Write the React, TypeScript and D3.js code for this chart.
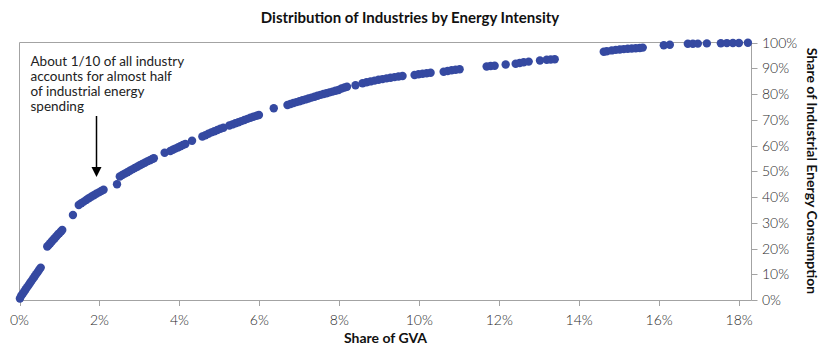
import React from "react";
import * as d3 from "d3";

const gvaShare: number[] = [
  0.01, 0.043, 0.08, 0.118, 0.155, 0.193, 0.23, 0.268, 0.305, 0.343, 0.381, 0.418, 0.456, 0.493, 0.531,
  0.694, 0.731, 0.769, 0.806, 0.844, 0.881, 0.919, 0.956, 0.994, 1.037, 1.069,
  1.337,
  1.482, 1.545, 1.607, 1.67, 1.733, 1.795, 1.858, 1.92, 1.983, 2.046, 2.103,
  2.439,
  2.509, 2.571, 2.634, 2.697, 2.759, 2.822, 2.884, 2.947, 3.009, 3.072, 3.135, 3.197, 3.26, 3.322, 3.36,
  3.63,
  3.773, 3.836, 3.898, 3.961, 4.024, 4.086, 4.149,
  4.316,
  4.574, 4.65, 4.725, 4.8, 4.875, 4.95, 5.025, 5.1, 5.25, 5.326, 5.401, 5.476, 5.551, 5.626, 5.701, 5.776, 5.851, 5.926, 5.989,
  6.36,
  6.703, 6.778, 6.853, 6.928, 7.003, 7.078, 7.153, 7.228, 7.303, 7.379, 7.454, 7.529, 7.604, 7.679, 7.754, 7.829, 7.904, 7.979, 8.055, 8.13, 8.192,
  8.405, 8.581, 8.681, 8.781, 8.881, 8.981, 9.081, 9.181, 9.281, 9.381, 9.481, 9.581,
  9.882, 9.982, 10.083, 10.183, 10.283,
  10.609, 10.709, 10.809, 10.909, 11.009,
  11.685, 11.785, 11.885,
  12.161,
  12.411, 12.511, 12.611, 12.737,
  13.019,
  13.187, 13.288, 13.388,
  14.614, 14.689, 14.814, 14.915, 15.015, 15.115, 15.215, 15.315, 15.415, 15.515, 15.59,
  16.116, 16.267, 16.717, 16.843, 16.968, 17.193, 17.544, 17.694, 17.845, 17.995, 18.22,
];

const energyShare: number[] = [
  0.6, 1.63, 2.45, 3.3, 4.16, 5.01, 5.83, 6.68, 7.53, 8.39, 9.2, 10.06, 10.91, 11.77, 12.58,
  20.78, 21.36, 22.06, 22.72, 23.38, 24.0, 24.66, 25.32, 25.94, 26.6, 27.18,
  33.0,
  36.89, 37.55, 38.21, 38.87, 39.5, 40.08, 40.66, 41.24, 41.79, 42.33, 42.8,
  44.93,
  47.96, 48.54, 49.09, 49.63, 50.17, 50.72, 51.26, 51.77, 52.31, 52.82, 53.32, 53.83, 54.29, 54.76, 55.03,
  57.2,
  57.86, 58.33, 58.8, 59.26, 59.73, 60.19, 60.58,
  61.86,
  63.5, 64.0, 64.54, 65.09, 65.55, 66.02, 66.49, 66.91, 67.77, 68.19, 68.62, 69.05, 69.48, 69.9, 70.33, 70.76, 71.15, 71.53, 71.84,
  74.45,
  75.73, 76.12, 76.5, 76.85, 77.2, 77.55, 77.9, 78.25, 78.6, 78.95, 79.3, 79.65, 80.0, 80.31, 80.62, 80.93, 81.24, 81.55, 82.14, 82.52, 82.83,
  83.42, 84.19, 84.54, 84.89, 85.2, 85.51, 85.79, 86.06, 86.33, 86.56, 86.8, 86.99,
  87.38, 87.65, 87.88, 88.08, 88.23,
  88.62, 88.93, 89.2, 89.4, 89.59,
  90.68, 90.87, 90.99,
  91.46,
  91.73, 92.04, 92.31, 92.58,
  93.01,
  93.28, 93.4, 93.48,
  96.39, 96.62, 96.93, 97.13, 97.28, 97.44, 97.55, 97.67, 97.79, 97.86, 98.02,
  98.95, 99.11, 99.5, 99.53, 99.57, 99.65, 99.73, 99.77, 99.81, 99.81, 99.88,
];

const xTicks: number[] = [0, 2, 4, 6, 8, 10, 12, 14, 16, 18];
const yTicks: number[] = [0, 10, 20, 30, 40, 50, 60, 70, 80, 90, 100];

const titleText = "Distribution of Industries by Energy Intensity";
const xTitle = "Share of GVA";
const yTitle = "Share of Industrial Energy Consumption";
const noteLines: string[] = [
  "About 1/10 of all industry",
  "accounts for almost half",
  "of industrial energy",
  "spending",
];

const W = 840;
const H = 357;
const left = 19.5;
const right = 751.5;
const top = 42.5;
const bottom = 300;

export default function App() {
  const x = d3.scaleLinear().domain([0, 18.31]).range([left, right]);
  const y = d3.scaleLinear().domain([0, 100]).range([bottom, top]);
  const axisColor = "#a3a3a3";
  const font = "Lato, 'Open Sans', sans-serif";
  const n = Math.min(gvaShare.length, energyShare.length);
  const pts = d3.range(n).map((i) => ({ g: gvaShare[i], e: energyShare[i] }));

  return (
    <svg
      width={W}
      height={H}
      style={{ position: "absolute", left: 0, top: 0, background: "#fff" }}
      fontFamily={font}
    >
      <text x={410} y={23} textAnchor="middle" fontSize={15} fontWeight={700} fill="#111">
        {titleText}
      </text>

      {/* frame */}
      <line x1={left} x2={right} y1={top} y2={top} stroke={axisColor} strokeWidth={1} />
      <line x1={left} x2={left} y1={top} y2={bottom + 0.5} stroke={axisColor} strokeWidth={1} />
      <line x1={left} x2={right} y1={bottom + 0.5} y2={bottom + 0.5} stroke={axisColor} strokeWidth={1} />
      <line x1={right} x2={right} y1={top} y2={bottom + 0.5} stroke={axisColor} strokeWidth={1} />

      {xTicks.map((t) => {
        const px = Math.round(x(t)) + 0.5;
        return (
          <g key={"x" + t}>
            <line x1={px} x2={px} y1={bottom} y2={bottom + 6} stroke={axisColor} />
            <text x={x(t)} y={325} textAnchor="middle" fontSize={14} fontWeight={300} fill="#2a2a2a">
              {t + "%"}
            </text>
          </g>
        );
      })}

      {yTicks.map((t) => {
        const py = Math.round(y(t)) + 0.5;
        return (
          <g key={"y" + t}>
            <line x1={right} x2={right + 6} y1={py} y2={py} stroke={axisColor} />
            <text x={762} y={y(t) + 5} textAnchor="start" fontSize={14} fontWeight={300} fill="#2a2a2a">
              {t + "%"}
            </text>
          </g>
        );
      })}

      <text x={(left + right) / 2} y={343} textAnchor="middle" fontSize={14} fontWeight={700} fill="#111">
        {xTitle}
      </text>
      <text
        transform={`translate(807,171) rotate(90)`}
        textAnchor="middle"
        fontSize={14}
        fontWeight={700}
        fill="#111"
      >
        {yTitle}
      </text>

      {pts.map((p, i) => (
        <circle key={i} cx={x(p.g)} cy={y(p.e)} r={4.2} fill="#3549a1" />
      ))}

      {noteLines.map((l, i) => (
        <text key={i} x={30.5} y={66 + i * 15} fontSize={13.5} fill="#222">
          {l}
        </text>
      ))}
      <line x1={96.5} x2={96.5} y1={116} y2={168} stroke="#000" strokeWidth={1.5} />
      <path d="M91.5,167 L101.5,167 L96.5,177 Z" fill="#000" />
    </svg>
  );
}
